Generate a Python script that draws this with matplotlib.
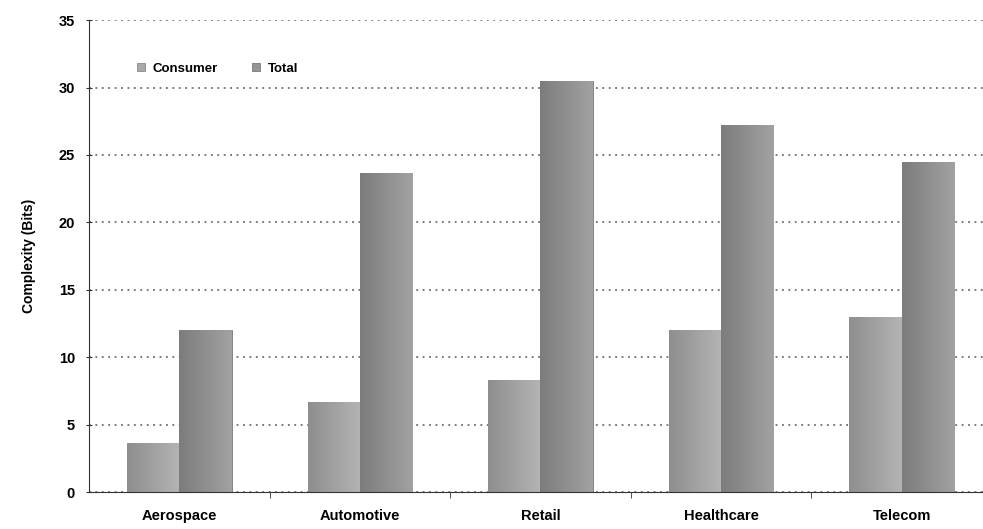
import numpy as np
import matplotlib
matplotlib.use("Agg")
import matplotlib.pyplot as plt
from matplotlib.ticker import MultipleLocator, FixedLocator

categories = ["Aerospace", "Automotive", "Retail", "Healthcare", "Telecom"]
consumer = [3.6, 6.7, 8.3, 12.0, 13.0]
total = [12.0, 23.7, 30.5, 27.2, 24.5]

plt.rcParams['font.family'] = ['Liberation Sans', 'DejaVu Sans']

fig = plt.figure(figsize=(9.83, 5.29), dpi=100, facecolor='w')
ax = fig.add_axes([0.0905, 0.0699, 0.9095, 0.892])

x = np.arange(len(categories))
w = 0.29

def gradient_bars(bars, c_left, c_right):
    # fill each bar with a left-to-right grey ramp
    grad = np.linspace(0, 1, 256).reshape(1, -1)
    cmap = matplotlib.colors.LinearSegmentedColormap.from_list("g", [c_left, c_right])
    for b in bars:
        x0, y0 = b.get_x(), b.get_y()
        im = ax.imshow(grad, extent=[x0, x0 + b.get_width(), y0, y0 + b.get_height()],
                       aspect='auto', cmap=cmap, zorder=2, interpolation='bicubic')
        im.set_clip_path(b)

b1 = ax.bar(x - w / 2, consumer, w, color='#a8a8a8', edgecolor='#8a8a8a', linewidth=0.6,
            zorder=2, label="Consumer")
b2 = ax.bar(x + w / 2, total, w, color='#959595', edgecolor='#7a7a7a', linewidth=0.6,
            zorder=2, label="Total")
gradient_bars(b1, '#8e8e8e', '#b4b4b4')
gradient_bars(b2, '#7c7c7c', '#a2a2a2')

ax.set_xlim(-0.5, 4.45)
ax.set_ylim(0, 35)
ax.yaxis.set_major_locator(MultipleLocator(5))
ax.yaxis.grid(True, linestyle=(0, (1.2, 3)), color='#555555', linewidth=1.1, zorder=0)
ax.set_axisbelow(True)

ax.set_xticks(x)
ax.set_xticklabels(categories, fontsize=10.5, fontweight='bold')
ax.xaxis.set_minor_locator(FixedLocator(np.arange(0.5, 4.5, 1)))
ax.tick_params(axis='x', which='major', length=0, pad=12)
ax.tick_params(axis='x', which='minor', length=4, direction='out', color='#333333')
ax.tick_params(axis='y', length=4, direction='inout', labelsize=10.5, color='#333333', pad=8)
for t in ax.get_yticklabels():
    t.set_fontweight('bold')

for s in ['top', 'right']:
    ax.spines[s].set_visible(False)
ax.spines['left'].set_color('#333333')
ax.spines['bottom'].set_color('#333333')

ax.set_ylabel("Complexity (Bits)", fontsize=10, fontweight='bold', labelpad=16)

leg = ax.legend(loc='upper left', bbox_to_anchor=(0.04, 0.935), ncol=2, frameon=False,
                prop={'weight': 'bold', 'size': 9.5}, handlelength=0.6, handleheight=0.6,
                columnspacing=2.6, handletextpad=0.6)

plt.savefig("out.png", dpi=100)
